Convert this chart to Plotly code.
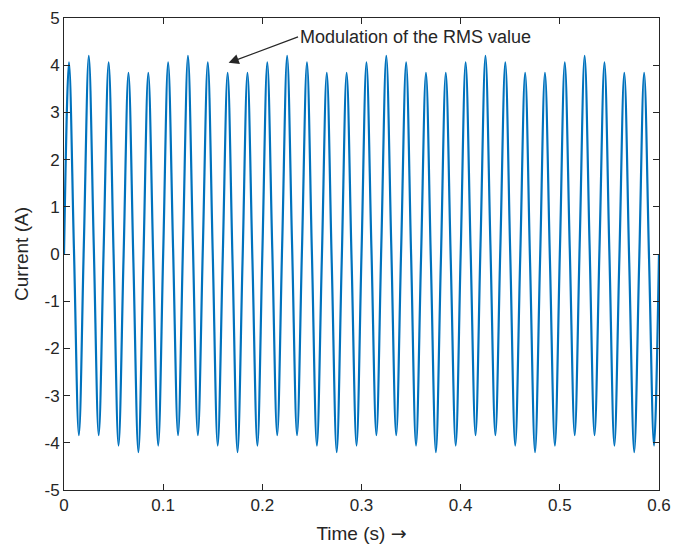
import numpy as np
import plotly.graph_objects as go

# Positive peak values (A) of each 50 Hz cycle (t = 0.005 + 0.02k)
peaks = [4.06, 4.20, 4.06, 3.84, 3.84, 4.06, 4.20, 4.06, 3.84, 3.84,
         4.06, 4.20, 4.06, 3.84, 3.84, 4.06, 4.20, 4.06, 3.84, 3.84,
         4.06, 4.20, 4.06, 3.84, 3.84, 4.06, 4.20, 4.06, 3.84, 3.84]
# Negative peak values (A), t = 0.015 + 0.02k
troughs = [-3.84, -3.84, -4.06, -4.20, -4.06, -3.84, -3.84, -4.06, -4.20, -4.06,
           -3.84, -3.84, -4.06, -4.20, -4.06, -3.84, -3.84, -4.06, -4.20, -4.06,
           -3.84, -3.84, -4.06, -4.20, -4.06, -3.84, -3.84, -4.06, -4.20, -4.06]
# Values near the zero crossings, t = 0.01k
crossings = [0.00, 0.12, 0.19, 0.19, 0.12, 0.00, -0.12, -0.19, -0.19, -0.12,
             0.00, 0.12, 0.19, 0.19, 0.12, 0.00, -0.12, -0.19, -0.19, -0.12,
             0.00, 0.12, 0.19, 0.19, 0.12, 0.00, -0.12, -0.19, -0.19, -0.12,
             0.00, 0.12, 0.19, 0.19, 0.12, 0.00, -0.12, -0.19, -0.19, -0.12,
             0.00, 0.12, 0.19, 0.19, 0.12, 0.00, -0.12, -0.19, -0.19, -0.12,
             0.00, 0.12, 0.19, 0.19, 0.12, 0.00, -0.12, -0.19, -0.19, -0.12,
             0.00]
step = 0.005  # quarter period of the 50 Hz current

x_ticks = [0, 0.1, 0.2, 0.3, 0.4, 0.5, 0.6]
x_tick_labels = ["0", "0.1", "0.2", "0.3", "0.4", "0.5", "0.6"]
y_ticks = [-5, -4, -3, -2, -1, 0, 1, 2, 3, 4, 5]
y_tick_labels = [str(v) for v in y_ticks]

# build the sample table
t, y = [], []
n = 4 * len(peaks) + 1
for i in range(n):
    t.append(i * step)
    if i % 2 == 0:
        y.append(crossings[i // 2])
    elif i % 4 == 1:
        y.append(peaks[i // 4])
    else:
        y.append(troughs[i // 4])

axis_col = "#262626"
font_fam = "Liberation Sans, Arial, sans-serif"

fig = go.Figure()
fig.add_trace(go.Scatter(
    x=t, y=y, mode="lines",
    line=dict(color="#0072BD", width=2.2, shape="spline", smoothing=1.0),
    showlegend=False, hoverinfo="skip"))

axis_common = dict(
    showline=True, linecolor=axis_col, linewidth=1, mirror="ticks",
    ticks="inside", ticklen=6, tickcolor=axis_col, tickwidth=1,
    showgrid=False, zeroline=False, automargin=False,
    tickfont=dict(family=font_fam, size=17, color=axis_col),
)

fig.update_xaxes(range=[0, 0.6], tickvals=x_ticks, ticktext=x_tick_labels,
                 title=dict(text="Time (s) <span style='font-family:DejaVu Sans'>\u2192</span>",
                            font=dict(family=font_fam, size=19, color=axis_col),
                            standoff=12),
                 **axis_common)
fig.update_yaxes(range=[-5, 5], tickvals=y_ticks, ticktext=y_tick_labels,
                 title=dict(text="Current (A)", font=dict(family=font_fam, size=19, color=axis_col),
                            standoff=10),
                 **axis_common)

fig.add_annotation(
    x=0.166, y=4.05, xref="x", yref="y",
    ax=0.236, ay=4.6, axref="x", ayref="y",
    text="Modulation of the RMS value", showarrow=True,
    xanchor="left", yanchor="middle",
    arrowhead=2, arrowsize=1.7, arrowwidth=1.2, arrowcolor=axis_col,
    font=dict(family=font_fam, size=18, color=axis_col),
)

fig.update_layout(
    width=673, height=546,
    margin=dict(l=64, r=14, t=18, b=56),
    paper_bgcolor="white", plot_bgcolor="white",
)

fig.write_html("out.html")
